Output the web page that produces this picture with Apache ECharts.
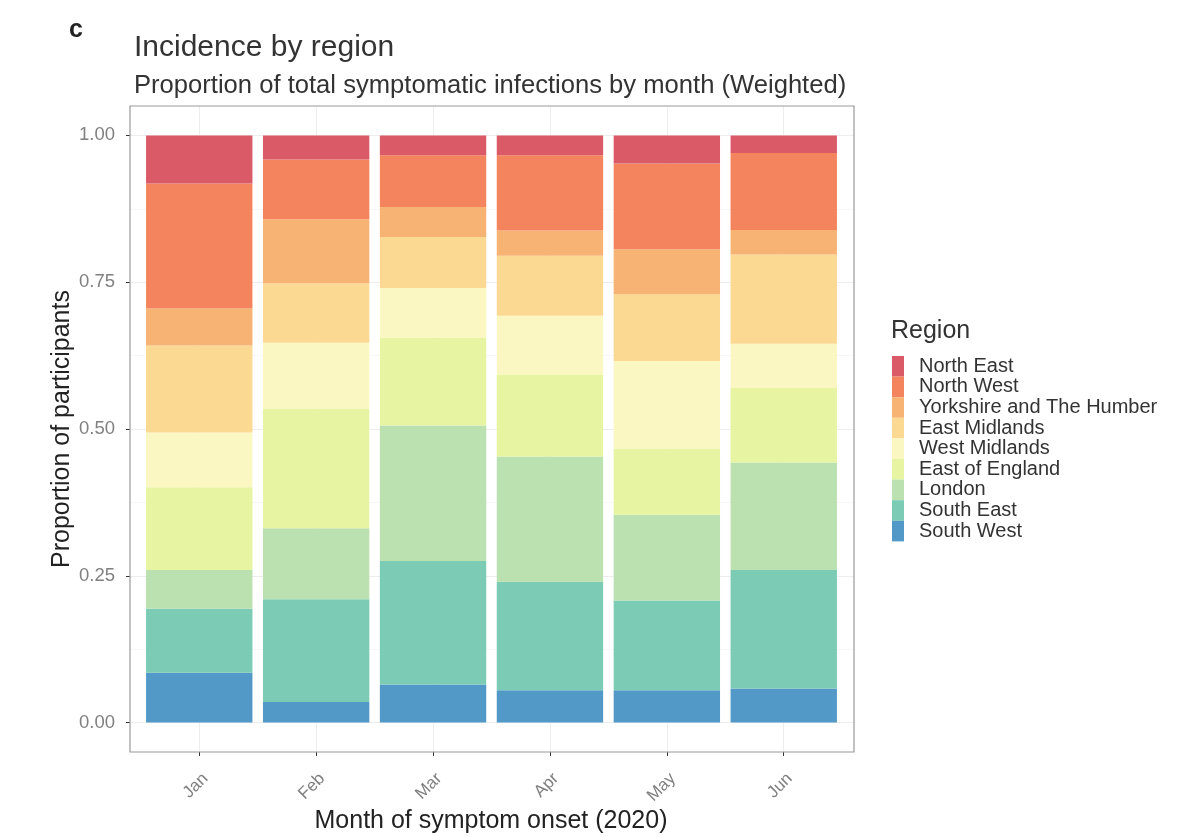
<!DOCTYPE html>
<html>
<head>
<meta charset="utf-8">
<script src="https://cdn.jsdelivr.net/npm/echarts@6/dist/echarts.min.js"></script>
<style>
  html, body { margin: 0; padding: 0; background: #ffffff; }
  #chart { width: 1184px; height: 836px; }
</style>
</head>
<body>
<div id="chart"></div>
<script>
// Months of symptom onset
const months = ['Jan', 'Feb', 'Mar', 'Apr', 'May', 'Jun'];

// Regions, listed top of the stack first (legend order)
const regions = [
  'North East', 'North West', 'Yorkshire and The Humber', 'East Midlands',
  'West Midlands', 'East of England', 'London', 'South East', 'South West'
];

// Share of symptomatic infections per month for each region (weighted)
const northEast     = [0.082, 0.041, 0.034, 0.034, 0.048, 0.030];
const northWest     = [0.213, 0.102, 0.088, 0.128, 0.146, 0.131];
const yorkshire     = [0.063, 0.109, 0.051, 0.043, 0.076, 0.042];
const eastMidlands  = [0.148, 0.101, 0.087, 0.102, 0.114, 0.152];
const westMidlands  = [0.093, 0.112, 0.084, 0.101, 0.149, 0.075];
const eastOfEngland = [0.141, 0.204, 0.150, 0.139, 0.113, 0.127];
const london        = [0.066, 0.121, 0.231, 0.213, 0.146, 0.183];
const southEast     = [0.109, 0.175, 0.210, 0.185, 0.153, 0.202];
const southWest     = [0.085, 0.035, 0.065, 0.055, 0.055, 0.058];

// Y axis tick values
const yTicks = [0, 0.25, 0.5, 0.75, 1];

// Spectral-style palette, one colour per region (top to bottom)
const palette = {
  'North East': '#da5a67',
  'North West': '#f4845e',
  'Yorkshire and The Humber': '#f7b374',
  'East Midlands': '#fcd993',
  'West Midlands': '#fbf7c2',
  'East of England': '#e7f4a2',
  'London': '#bae1af',
  'South East': '#7ccbb5',
  'South West': '#5299c7'
};

const valuesByRegion = {
  'North East': northEast,
  'North West': northWest,
  'Yorkshire and The Humber': yorkshire,
  'East Midlands': eastMidlands,
  'West Midlands': westMidlands,
  'East of England': eastOfEngland,
  'London': london,
  'South East': southEast,
  'South West': southWest
};

const FONT = '"Liberation Sans", Arial, sans-serif';
const chart = echarts.init(document.getElementById('chart'), null, { renderer: 'canvas' });

// Stack from the bottom: South West first, North East last
const stackOrder = regions.slice().reverse();
const barSeries = stackOrder.map(name => ({
  name: name,
  type: 'bar',
  stack: 'total',
  xAxisIndex: 0,
  yAxisIndex: 0,
  barWidth: '91%',
  itemStyle: { color: palette[name] },
  emphasis: { disabled: true },
  data: valuesByRegion[name]
}));

const option = {
  animation: false,
  backgroundColor: '#ffffff',
  textStyle: { fontFamily: FONT },
  title: [
    { text: 'c', left: 64, top: 13, textStyle: { fontSize: 25, fontWeight: 'bold', color: '#222', fontFamily: FONT } },
    { text: 'Incidence by region', left: 129, top: 28, textStyle: { fontSize: 30, fontWeight: 'normal', color: '#333', fontFamily: FONT } },
    { text: 'Proportion of total symptomatic infections by month (Weighted)', left: 129, top: 68, textStyle: { fontSize: 25.6, fontWeight: 'normal', color: '#333', fontFamily: FONT } }
  ],
  legend: {
    orient: 'vertical',
    left: 887,
    top: 351,
    data: regions,
    icon: 'rect',
    itemWidth: 12,
    itemHeight: 20.6,
    itemGap: 0,
    selectedMode: false,
    textStyle: { fontSize: 20, lineHeight: 20, color: '#333', fontFamily: FONT, padding: [0, 0, 0, 10] }
  },
  graphic: [
    { type: 'text', left: 891, top: 319, style: { text: 'Region', fontSize: 25, fill: '#333', fontFamily: FONT } },
    // x axis title, centred under the month ticks
    { type: 'text', x: 491, y: 821, silent: true,
      style: { text: 'Month of symptom onset (2020)', fontSize: 25, fill: '#222', fontFamily: FONT,
               align: 'center', verticalAlign: 'middle' } },
    // panel border
    { type: 'rect', z: 10, silent: true,
      shape: { x: 130, y: 106, width: 724, height: 646 },
      style: { fill: 'none', stroke: '#999999', lineWidth: 1.2 } }
  ],
  grid: [
    // bars
    { left: 140.8, right: 341.8, top: 135.4, bottom: 113.4 },
    // horizontal grid lines, y ticks and labels across the panel
    { left: 130, right: 330, top: 135.4, bottom: 113.4 },
    // vertical grid lines, x ticks and labels at month positions
    { left: 199.3, right: 400.3, top: 106, bottom: 84 }
  ],
  xAxis: [
    { type: 'category', gridIndex: 0, data: months, show: false },
    { type: 'value', gridIndex: 1, show: false },
    {
      type: 'category', gridIndex: 2, data: months, boundaryGap: false,
      axisLine: { show: false },
      axisTick: { show: true, length: 4, lineStyle: { color: '#333', width: 1 } },
      axisLabel: { rotate: 45, margin: 18, verticalAlign: 'top', fontSize: 17, color: '#808080', fontFamily: FONT },
      splitLine: { show: true, lineStyle: { color: '#ededed', width: 1 } }
    }
  ],
  yAxis: [
    { type: 'value', gridIndex: 0, min: 0, max: 1, show: false },
    {
      type: 'value', gridIndex: 1, min: 0, max: 1, interval: 0.25,
      axisLine: { show: false },
      axisTick: { show: true, length: 4, lineStyle: { color: '#333', width: 1 } },
      axisLabel: {
        margin: 15, fontSize: 18.5, color: '#808080', fontFamily: FONT,
        formatter: v => (yTicks.indexOf(v) >= 0 ? v.toFixed(2) : '')
      },
      splitLine: { show: true, lineStyle: { color: '#ededed', width: 1 } },
      minorTick: { show: false, splitNumber: 2 },
      minorSplitLine: { show: true, lineStyle: { color: '#f5f5f5', width: 0.8 } },
      name: 'Proportion of participants', nameLocation: 'middle', nameGap: 55,
      nameMoveOverlap: false,
      nameTextStyle: { fontSize: 25, color: '#222', fontFamily: FONT }
    },
    { type: 'value', gridIndex: 2, show: false, splitLine: { show: false } }
  ],
  series: barSeries
};

chart.setOption(option);
</script>
</body>
</html>
